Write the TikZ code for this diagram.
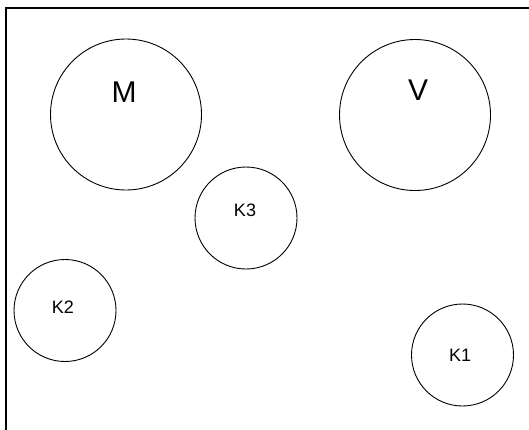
\documentclass[tikz,border=0pt]{standalone}
\usepackage{fontspec}
\setmainfont{Liberation Sans}
\begin{document}
\begin{tikzpicture}[x=1pt,y=-1pt,
  ring/.style={draw=black,line width=0.9pt,circle,inner sep=0pt},
  bigring/.style={ring,minimum size=151pt},
  smallring/.style={ring,minimum size=102pt},
  biglbl/.style={font=\fontsize{30}{30}\selectfont,inner sep=0pt},
  smalllbl/.style={font=\fontsize{18}{18}\selectfont,inner sep=0pt}]
\useasboundingbox (0,0) rectangle (529,429);
\draw[line width=1.5pt] (6,8) rectangle (560,460);
\node[bigring] (M) at (126,114.5) {};
\node[biglbl] (Mt) at (124,92) {M};
\node[bigring] (V) at (415,115) {};
\node[biglbl] (Vt) at (418,90) {V};
\node[smallring] (K3) at (246,218) {};
\node[smalllbl] (K3t) at (245,210) {K3};
\node[smallring] (K2) at (65,310.5) {};
\node[smalllbl] (K2t) at (63,307) {K2};
\node[smallring] (K1) at (462.5,355) {};
\node[smalllbl] (K1t) at (460,355) {K1};
\end{tikzpicture}
\end{document}
